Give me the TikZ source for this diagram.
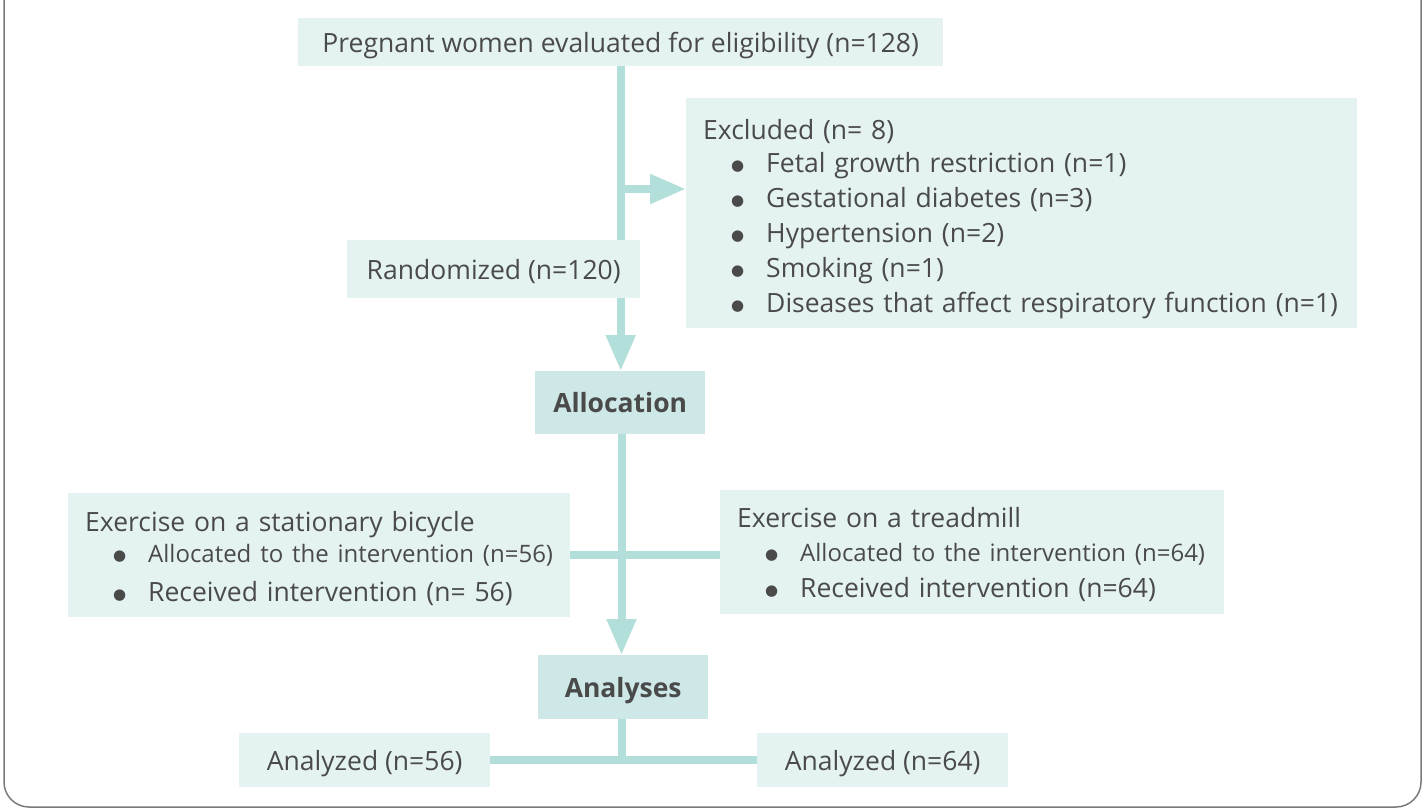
\documentclass[tikz,border=0pt]{standalone}
\usepackage{xcolor}
\usepackage{fontspec}
\setmainfont{Open Sans}
\newfontfamily\symfont{DejaVu Sans}
\usetikzlibrary{arrows.meta,backgrounds}

\definecolor{boxlight}{HTML}{E4F3F2}
\definecolor{boxdark}{HTML}{CDE8E7}
\definecolor{flowc}{HTML}{B2DFDA}
\definecolor{txt}{HTML}{4A4A4A}
\definecolor{framec}{HTML}{7A7A7A}
\newcommand{\blt}{\makebox[63pt][l]{\hspace{28pt}\raisebox{2pt}{\symfont\fontsize{15}{15}\selectfont ●}}}

\begin{document}
\begin{tikzpicture}[x=1pt, y=-1pt,
    font=\fontsize{26.5}{35}\selectfont,
    lightbox/.style={fill=boxlight, text=txt, inner sep=0pt, anchor=north west},
    oneline/.style={lightbox, text height=27pt, text depth=6.5pt},
    listbox/.style={lightbox, inner xsep=17pt, align=left},
    darkbox/.style={oneline, fill=boxdark, font=\fontsize{26.5}{35}\selectfont\bfseries},
    flow/.style={draw=flowc, line width=8pt},
    flowarrow/.style={flow, -{Triangle[width=28pt, length=36pt]}}]
      \useasboundingbox (0,0) rectangle (1423,809);
      % Marco
      \draw[framec, line width=1.5pt, rounded corners=25pt] (4,-10) -- (4,807) -- (1421,807) -- (1421,-10);

      % Nodos
      \node[oneline, minimum width=645, minimum height=48] (screen) at (298,18) {Pregnant women evaluated for eligibility (n=128)};
      \node[listbox, text width=637, minimum height=230] (excluded) at (686,98)
        {\rule{0pt}{32pt}Excluded (n= 8)\\[-2pt]
         \blt Fetal growth restriction (n=1)\\
         \blt Gestational diabetes (n=3)\\
         \blt Hypertension (n=2)\\
         \blt Smoking (n=1)\\
         \blt Diseases that affect respiratory function (n=1)};
      \node[oneline, minimum width=293, minimum height=58] (random) at (347,240) {Randomized (n=120)};
      \node[darkbox, minimum width=170, minimum height=63] (alloc) at (535,371) {Allocation};
      \node[listbox, text width=468, minimum height=124] (bike) at (68,493)
        {\rule{0pt}{26pt}Exercise on a stationary bicycle\\[-4pt]
         \blt{\fontsize{24}{30}\selectfont Allocated to the intervention (n=56)}\\[4pt]
         \blt Received intervention (n= 56)};
      \node[listbox, text width=470, minimum height=124] (tread) at (720,490)
        {\rule{0pt}{25pt}Exercise on a treadmill\\[-1pt]
         \blt{\fontsize{24}{30}\selectfont Allocated to the intervention (n=64)}\\[1pt]
         \blt Received intervention (n=64)};
      \node[darkbox, minimum width=170, minimum height=64] (analyses) at (538,655) {Analyses};
      \node[oneline, minimum width=251, minimum height=54] (an1) at (239,733) {Analyzed (n=56)};
      \node[oneline, minimum width=251, minimum height=54] (an2) at (757,733) {Analyzed (n=64)};

      % Flechas
      \coordinate (split) at (620.5,189);
      \begin{scope}[on background layer]
        \draw[flowarrow] (screen.south) -- (screen.south |- alloc.north);
        \draw[flowarrow] (split) -- (split -| excluded.west);
        \draw[flowarrow] (alloc.south -| 621.5,0) -- (analyses.north -| 621.5,0);
        \draw[flow] (bike.east) -- (bike.east -| tread.west);
        \draw[flow] (analyses.south -| 621.5,0) -- (an1.east -| 621.5,0);
        \draw[flow] (an1.east) -- (an2.west);
      \end{scope}
    \end{tikzpicture}
\end{document}
